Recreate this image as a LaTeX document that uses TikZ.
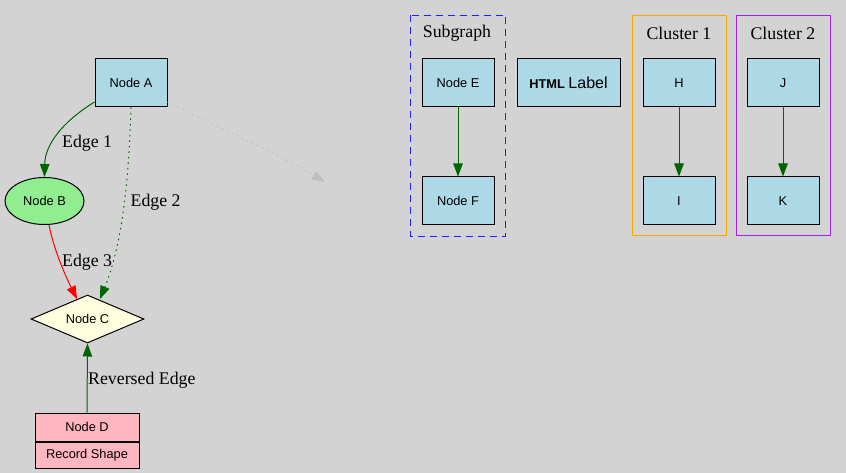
\documentclass[tikz,border=0pt]{standalone}
\usepackage{fontspec}
\setmainfont{Liberation Serif}
\newfontfamily\arialfont{Liberation Sans}
\usetikzlibrary{shapes.geometric,arrows.meta}
\definecolor{bg}{HTML}{D3D3D3}
\definecolor{lblue}{HTML}{ADD8E6}
\definecolor{lgreen}{HTML}{90EE90}
\definecolor{lyellow}{HTML}{FFFFE0}
\definecolor{lpink}{HTML}{FFB6C1}
\definecolor{dgreen}{HTML}{006400}
\definecolor{xgray}{HTML}{BEBEBE}
\definecolor{xpurple}{HTML}{A020F0}
\definecolor{xorange}{HTML}{FFA500}
\definecolor{xblue}{HTML}{2020FF}
\tikzset{
  gnode/.style={draw=black, line width=1pt, inner sep=0pt, font=\arialfont\fontsize{12.8}{14}\selectfont},
  boxnode/.style={gnode, rectangle, fill=lblue, minimum width=72pt, minimum height=48pt},
  elabel/.style={font=\fontsize{17.8}{20}\selectfont, inner sep=0pt, anchor=west},
  clabel/.style={font=\fontsize{17.8}{20}\selectfont, inner sep=0pt},
  cluster/.style={rectangle, line width=1pt, minimum width=94pt, minimum height=220pt, inner sep=0pt},
  gedge/.style={line width=1pt, -{Triangle[length=13pt,width=9.5pt]}},
  dotline/.style={dash pattern=on 1.5pt off 4pt},
}
\begin{document}
\begin{tikzpicture}[x=1pt,y=-1pt]
\fill[bg] (0,0) rectangle (846,473);
\useasboundingbox (0,0) rectangle (846,473);

% clusters
\node[cluster] (sg) at (458,126) {};
\draw[xblue, line width=1.2pt, dash pattern=on 7pt off 5pt] (sg.north west) rectangle (sg.south east);
\node[clabel] (sgl) at (457,33) {Subgraph};
\node[cluster, draw=xorange] (c1) at (679,126) {};
\node[clabel] (c1l) at (679,33) {Cluster 1};
\node[cluster, draw=xpurple] (c2) at (783,126) {};
\node[clabel] (c2l) at (783,33) {Cluster 2};

% nodes
\node[boxnode] (A) at (131,83) {Node A};
\node[gnode, ellipse, fill=lgreen, minimum width=79pt, minimum height=47pt] (B) at (44.5,201) {Node B};
\node[gnode, diamond, fill=lyellow, aspect=2.35, minimum width=113pt, minimum height=48pt] (C) at (87.5,319) {Node C};
\node[gnode, rectangle, fill=lpink, minimum width=104pt, minimum height=28pt] (D) at (87,427) {Node D};
\node[gnode, rectangle, fill=lpink, minimum width=104pt, minimum height=26pt, anchor=north] (Dr) at (D.south) {Record Shape};

\node[boxnode] (E) at (458,83) {Node E};
\node[boxnode] (F) at (458,201) {Node F};
\node[boxnode, minimum width=103pt] (H0) at (568.5,83) {{\bfseries HTML} {\fontsize{16}{18}\selectfont Label}};
\node[boxnode] (H) at (679,83) {H};
\node[boxnode] (I) at (679,201) {I};
\node[boxnode] (J) at (783,83) {J};
\node[boxnode] (K) at (783,201) {K};

% edges
\draw[gedge, dgreen] (A.south west |- 0,102) .. controls (62,122) and (45,145) .. (B.north);
\node[elabel] (l1) at (62,143) {Edge 1};

\coordinate (c2tip) at (100,299);
\draw[gedge, dgreen, dotline] (A.south) .. controls (129,170) and (124,240) .. (c2tip);
\node[elabel] (l2) at (130.5,202) {Edge 2};

\coordinate (c3tip) at (77,299);
\draw[gedge, red] (B.south -| 49,0) .. controls (54,250) and (65,275) .. (c3tip);
\node[elabel] (l3) at (62,262) {Edge 3};

\draw[gedge, dgreen] (D.north) -- (C.south);
\node[elabel] (l4) at (88,380) {Reversed Edge};

\coordinate (ghost) at (325,182);
\draw[gedge, xgray, dotline] (A.east |- 0,102) .. controls (220,128) and (280,155) .. (ghost);

\draw[gedge, dgreen] (E.south) -- (F.north);
\draw[gedge, dgreen] (H.south) -- (I.north);
\draw[gedge, dgreen] (J.south) -- (K.north);
\end{tikzpicture}
\end{document}
